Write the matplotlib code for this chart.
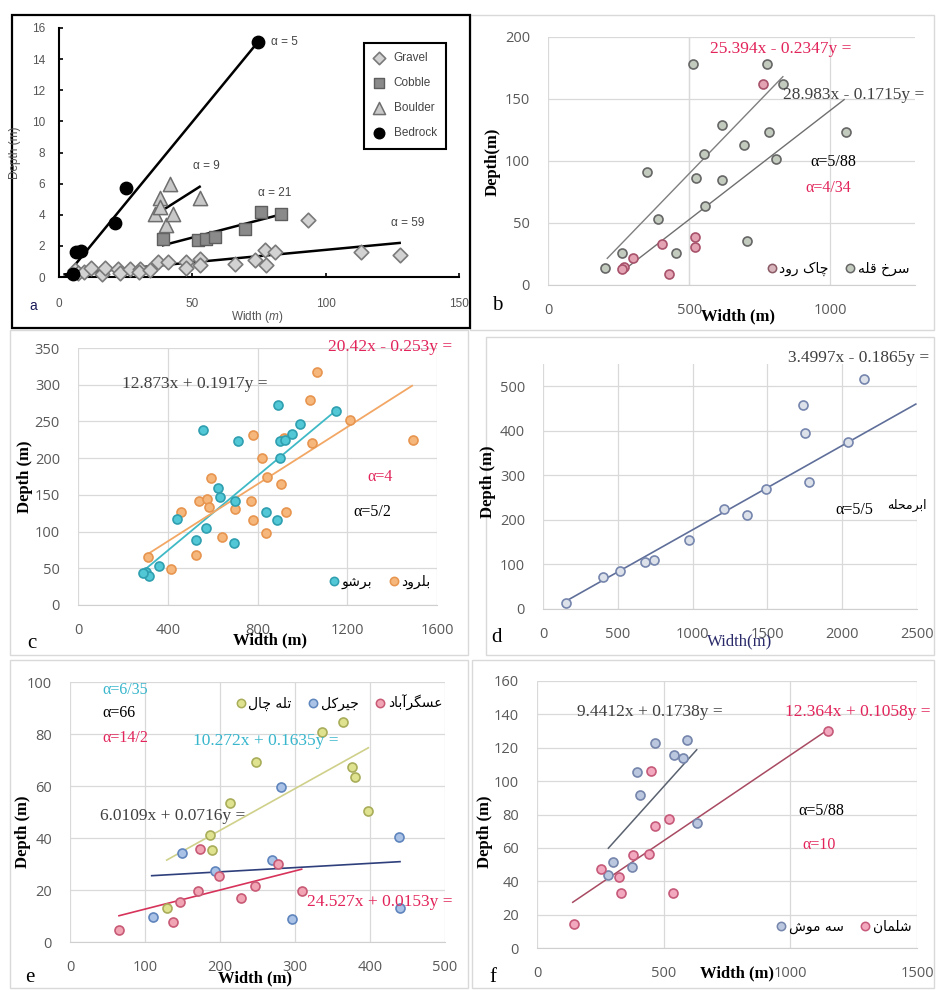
import matplotlib
matplotlib.use("Agg")
import matplotlib.pyplot as plt
from matplotlib.lines import Line2D
from matplotlib.patches import Rectangle

# ---- panel a : Gravel / Cobble / Boulder / Bedrock ----
a_gravel_x = [5.9, 7.0, 9.5, 12.1, 16.0, 17.1, 22.1, 23.0, 26.5, 30.2, 30.0, 34.0, 37.1, 40.9,
              47.8, 47.8, 52.75, 52.75, 65.9, 73.4, 77.1, 77.75, 80.9, 93.4, 113.4, 127.75]
a_gravel_y = [0.43, 0.25, 0.3, 0.6, 0.2, 0.6, 0.54, 0.25, 0.54, 0.54, 0.3, 0.43, 0.97, 0.97,
              0.97, 0.6, 1.18, 0.75, 0.86, 1.07, 1.72, 0.75, 1.61, 3.65, 1.61, 1.4]
a_cobble_x = [39.0, 52.1, 55.25, 58.4, 69.6, 75.6, 83.1]
a_cobble_y = [2.47, 2.36, 2.47, 2.58, 3.11, 4.19, 4.08]
a_boulder_x = [35.9, 37.75, 37.75, 40.25, 41.5, 42.75, 52.75]
a_boulder_y = [4.08, 5.05, 4.5, 3.33, 6.0, 4.08, 5.05]
a_bedrock_x = [5.25, 6.5, 8.1, 20.9, 25.25, 74.6]
a_bedrock_y = [0.21, 1.61, 1.7, 3.44, 5.69, 15.1]
a_fits = {  # (x0, x1), (y0, y1), alpha label
    "Gravel": ((2.1, 127.75), (0.17, 2.19), "α = 59", (124.6, 3.45)),
    "Cobble": ((39.0, 82.1), (2.04, 3.97), "α = 21", (74.6, 5.4)),
    "Boulder": ((35.9, 52.75), (3.97, 5.8), "α = 9", (50.25, 7.15)),
    "Bedrock": ((2.75, 74.6), (0.1, 15.1), "α = 5", (79.6, 15.1)),
}

# ---- panel b ----
b_gray_x = [513, 776, 832, 616, 784, 1054, 695, 551, 809, 352, 524, 616, 557, 389, 705, 454, 263, 201]
b_gray_y = [178, 178, 162, 129, 123, 123, 113, 105.5, 102, 91, 86, 84.5, 63.6, 53, 35.7, 26, 26, 14]
b_pink_x = [761, 521, 521, 302, 269, 261, 430, 403]
b_pink_y = [162, 38.4, 31, 21.5, 14.8, 12.6, 8.9, 33]
b_fit1_x, b_fit1_y = [210, 832], [21.5, 168]
b_fit2_x, b_fit2_y = [261, 1049], [10.7, 149.5]

# ---- panel c ----
c_teal_x = [304, 316, 289, 363, 440, 526, 571, 559, 622, 634, 714, 701, 696, 837, 889, 892,
            901, 923, 953, 988, 900, 1148]
c_teal_y = [45.5, 40, 43, 53, 117, 88.6, 104.5, 238.6, 159, 147.7, 222.7, 142, 85, 127, 116,
            273, 223, 225, 233, 247, 200, 263.6]
c_orange_x = [311, 460, 415, 526, 541, 573, 585, 593, 644, 701, 770, 781, 778, 819, 841, 837,
              904, 926, 916, 1041, 1033, 1064, 1212, 1493]
c_orange_y = [66, 127, 48.6, 68, 141, 144, 134, 172.7, 93, 130.5, 141, 116, 232, 200, 175, 97.7,
              165, 127, 227, 221, 279.5, 317, 252, 225]
c_fit_teal_x, c_fit_teal_y = [296, 1148], [47.7, 264.5]
c_fit_orange_x, c_fit_orange_y = [304, 1489], [68, 298.6]

# ---- panel d ----
d_x = [154, 399, 514, 681, 744, 978, 1209, 1365, 1488, 1739, 1751, 1780, 2036, 2147]
d_y = [14, 71, 86, 106.5, 110, 154, 225, 211, 270, 459, 394, 286, 376, 516.5]
d_fit_x, d_fit_y = [147, 2492], [16.5, 460]

# ---- panel e ----
e_yellow_x = [248, 335.6, 364.4, 375.6, 380, 397.8, 213.3, 186.7, 188.9, 129.8]
e_yellow_y = [69.4, 80.6, 84.7, 67.4, 63.6, 50.5, 53.6, 41.2, 35.4, 13]
e_blue_x = [110, 148.9, 193, 268.9, 281.3, 296.4, 438.7, 440]
e_blue_y = [9.7, 34.3, 27.3, 31.5, 59.5, 8.7, 40.5, 13]
e_pink_x = [65.3, 136.9, 146.7, 171, 173, 199, 227.6, 246.7, 276.9, 309]
e_pink_y = [4.5, 7.6, 15.5, 19.6, 35.6, 25.5, 16.8, 21.5, 30, 19.7]
e_fit_yellow_x, e_fit_yellow_y = [128.9, 397.8], [31.5, 74.7]
e_fit_blue_x, e_fit_blue_y = [108.9, 440], [25.5, 30.9]
e_fit_pink_x, e_fit_pink_y = [65.3, 308.9], [10.1, 28]

# ---- panel f ----
f_blue_x = [466, 593, 541, 575, 394, 407, 630, 299, 374, 282]
f_blue_y = [122.8, 124.8, 115.8, 113.8, 105.2, 91.8, 74.8, 51.8, 48.8, 43.8]
f_pink_x = [1150, 449, 466, 522, 380, 443, 251, 325, 330, 536, 146]
f_pink_y = [130.2, 105.8, 73.2, 77.2, 55.8, 56.2, 47.2, 42.8, 32.8, 32.8, 14.2]
f_fit_blue_x, f_fit_blue_y = [281.6, 630.5], [59.8, 118.8]
f_fit_pink_x, f_fit_pink_y = [141, 1154], [27.4, 131.4]

# Persian shaping (presentation forms, visual order)
FA = {
    'ا': ['\ufe8d', '\ufe8e'], 'آ': ['\ufe81', '\ufe82'], 'د': ['\ufea9', '\ufeaa'],
    'ر': ['\ufead', '\ufeae'], 'و': ['\ufeed', '\ufeee'],
    'ب': ['\ufe8f', '\ufe90', '\ufe91', '\ufe92'], 'ت': ['\ufe95', '\ufe96', '\ufe97', '\ufe98'],
    'ج': ['\ufe9d', '\ufe9e', '\ufe9f', '\ufea0'], 'چ': ['\ufb7a', '\ufb7b', '\ufb7c', '\ufb7d'],
    'ح': ['\ufea1', '\ufea2', '\ufea3', '\ufea4'], 'خ': ['\ufea5', '\ufea6', '\ufea7', '\ufea8'],
    'س': ['\ufeb1', '\ufeb2', '\ufeb3', '\ufeb4'], 'ش': ['\ufeb5', '\ufeb6', '\ufeb7', '\ufeb8'],
    'ع': ['\ufec9', '\ufeca', '\ufecb', '\ufecc'], 'ق': ['\ufed5', '\ufed6', '\ufed7', '\ufed8'],
    'ک': ['\ufb8e', '\ufb8f', '\ufb90', '\ufb91'], 'گ': ['\ufb92', '\ufb93', '\ufb94', '\ufb95'],
    'ل': ['\ufedd', '\ufede', '\ufedf', '\ufee0'], 'م': ['\ufee1', '\ufee2', '\ufee3', '\ufee4'],
    'ن': ['\ufee5', '\ufee6', '\ufee7', '\ufee8'], 'ه': ['\ufee9', '\ufeea', '\ufeeb', '\ufeec'],
    'ی': ['\ufbfc', '\ufbfd', '\ufbfe', '\ufbff'],
}


def fa(s):
    out = []
    for i, ch in enumerate(s):
        f = FA.get(ch)
        if f is None:
            out.append(ch)
            continue
        prev = FA.get(s[i - 1]) if i > 0 else None
        nxt = s[i + 1] if i + 1 < len(s) else ''
        jp = prev is not None and len(prev) == 4
        jn = len(f) == 4 and nxt in FA
        out.append(f[3] if jp and jn else f[1] if jp else f[2] if jn else f[0])
    return ''.join(reversed(out))


W, H = 936, 990
RED = '#e2245a'
TEAL = '#37b6cc'
DARK = '#404040'
SERIF = 'Liberation Serif'
plt.rcParams['mathtext.fontset'] = 'custom'
plt.rcParams['mathtext.it'] = 'Liberation Sans:italic'
plt.rcParams['mathtext.rm'] = 'Liberation Sans'

fig = plt.figure(figsize=(9.36, 9.9), dpi=100)


def rect(l, t, r, b):
    return [l / W, 1 - b / H, (r - l) / W, (b - t) / H]


def ftext(x, y, s, **kw):
    kw.setdefault('va', 'center')
    kw.setdefault('family', SERIF)
    fig.text(x / W, 1 - y / H, s, **kw)


def frame(l, t, r, b, color='#d9d9d9', lw=1.0):
    fig.add_artist(Rectangle((l / W, 1 - b / H), (r - l) / W, (b - t) / H, transform=fig.transFigure,
                             fill=False, ec=color, lw=lw))


def xl_axes(box, xlim, ylim, xticks, yticks, xgrid=True):
    ax = fig.add_axes(rect(*box))
    ax.set_xlim(xlim)
    ax.set_ylim(ylim)
    ax.set_xticks(xticks)
    ax.set_yticks(yticks)
    for s in ax.spines.values():
        s.set_visible(False)
    ax.spines['bottom'].set_visible(True)
    ax.spines['bottom'].set_color('#cfcfcf')
    ax.yaxis.grid(True, color='#d9d9d9', lw=0.9)
    ax.xaxis.grid(xgrid, color='#d9d9d9', lw=0.9)
    ax.set_axisbelow(True)
    ax.tick_params(length=0, labelsize=10.5, labelcolor='#595959')
    ax.tick_params(axis='x', pad=13)
    ax.tick_params(axis='y', pad=13)
    for t in ax.get_xticklabels() + ax.get_yticklabels():
        t.set_family('Open Sans')
    return ax


def pts(ax, x, y, fc, ec):
    ax.scatter(x, y, s=42, facecolor=fc, edgecolor=ec, linewidth=1.2, zorder=3, clip_on=False)


def fa_legend(ax, items, cx, cy, ncol):
    handles = [Line2D([], [], ls='', marker='o', ms=6, mfc=fc, mec=ec, mew=1.1) for _, fc, ec in items]
    labels = [fa(n) for n, _, _ in items]
    ax.legend(handles, labels, loc='center', bbox_to_anchor=(cx / W, 1 - cy / H),
              bbox_transform=fig.transFigure, ncol=ncol, frameon=False, handlelength=0.7,
              handletextpad=0.2, columnspacing=1.2, prop={'family': 'DejaVu Sans', 'size': 10})


# panel frames
frame(470, 15, 934, 330)
frame(10, 330, 468, 655)
frame(486, 337, 934, 655)
frame(10, 660, 468, 988)
frame(472, 660, 934, 988)
frame(12, 15, 470, 328, color='black', lw=1.6)

# ---------- a ----------
ax = fig.add_axes(rect(59, 28, 459, 277))
ax.set_xlim(0, 150)
ax.set_ylim(0, 16)
ax.set_xticks([0, 50, 100, 150])
ax.set_yticks(range(0, 17, 2))
ax.spines['top'].set_visible(False)
ax.spines['right'].set_visible(False)
for s in ('left', 'bottom'):
    ax.spines[s].set_linewidth(1.5)
ax.tick_params(direction='in', length=3, width=1.2, labelsize=8.5, labelcolor='#555555')
ax.tick_params(axis='x', pad=15)
ax.tick_params(axis='y', pad=10)
for t in ax.get_xticklabels() + ax.get_yticklabels():
    t.set_family('Liberation Sans')
for name, ((x0, x1), (y0, y1), lab, (lx, ly)) in a_fits.items():
    ax.plot([x0, x1], [y0, y1], color='black', lw=1.8, zorder=2)
    ax.text(lx, ly, lab, fontsize=8.5, color='#444444', family='Liberation Sans', va='center')
ax.scatter(a_gravel_x, a_gravel_y, marker='D', s=55, fc='#d2d2d2', ec='#7a7a7a', lw=1.2, zorder=3,
           clip_on=False, label='Gravel')
ax.scatter(a_cobble_x, a_cobble_y, marker='s', s=70, fc='#8a8a8a', ec='#5e5e5e', lw=1.0, zorder=3,
           label='Cobble')
ax.scatter(a_boulder_x, a_boulder_y, marker='^', s=105, fc='#c8c8c8', ec='#6e6e6e', lw=1.1, zorder=3,
           label='Boulder')
ax.scatter(a_bedrock_x, a_bedrock_y, marker='o', s=80, fc='black', ec='black', zorder=4,
           clip_on=False, label='Bedrock')
leg = ax.legend(loc='upper right', bbox_to_anchor=(0.9825, 0.964), fancybox=False, framealpha=1,
                edgecolor='black', borderpad=0.8, labelspacing=1.1, handlelength=1.0,
                handletextpad=0.7, markerscale=0.85, prop={'family': 'Liberation Sans', 'size': 8.5})
leg.get_frame().set_linewidth(1.5)
for t in leg.get_texts():
    t.set_color('#444444')
ftext(257, 317, r'Width ($m$)', ha='center', fontsize=8.5, color='#555555', family='Liberation Sans')
ftext(15, 153, 'Depth (m)', ha='center', rotation=90, fontsize=8.5, color='#555555',
      family='Liberation Sans')
ftext(33, 306, 'a', ha='center', fontsize=10, color='#1a1a5a', family='Liberation Sans')

# ---------- b ----------
ax = xl_axes((548, 37, 915, 285), (0, 1300), (0, 200), [0, 500, 1000], range(0, 201, 50), xgrid=False)
ax.axvline(500, color='#d9d9d9', lw=0.9, zorder=0)
ax.plot(b_fit1_x, b_fit1_y, color='#7f7f7f', lw=1.0)
ax.plot(b_fit2_x, b_fit2_y, color='#6f6f6f', lw=1.0)
pts(ax, b_gray_x, b_gray_y, '#c3cbbf', '#666666')
pts(ax, b_pink_x, b_pink_y, '#e3a3b3', '#a8526b')
fa_legend(ax, [('چاک رود', '#d8b4bd', '#8a5a66'), ('سرخ قله', '#c3cbbf', '#666666')], 838, 269, 2)
ftext(710, 49, '25.394x - 0.2347y =', color=RED, fontsize=12.5)
ftext(783, 95, '28.983x - 0.1715y =', color=DARK, fontsize=12.5)
ftext(810, 162, 'α=5/88', color='black', fontsize=11.5)
ftext(805, 188, 'α=4/34', color=RED, fontsize=11.5)
ftext(493, 162, 'Depth(m)', ha='center', rotation=90, fontsize=12, weight='bold')
ftext(738, 316, 'Width (m)', ha='center', fontsize=12, weight='bold')
ftext(497, 305, 'b', ha='center', fontsize=15)

# ---------- c ----------
ax = xl_axes((78, 348, 437, 605), (0, 1600), (0, 350), range(0, 1601, 400), range(0, 351, 50))
ax.plot(c_fit_teal_x, c_fit_teal_y, color='#3fb9c6', lw=1.3)
ax.plot(c_fit_orange_x, c_fit_orange_y, color='#f2a765', lw=1.3)
pts(ax, c_orange_x, c_orange_y, '#f6b77c', '#e7954f')
pts(ax, c_teal_x, c_teal_y, '#52c7d6', '#2f9fb0')
fa_legend(ax, [('برشو', '#52c7d6', '#2f9fb0'), ('بلرود', '#f6b77c', '#e7954f')], 380, 582, 2)
ftext(122, 384, '12.873x + 0.1917y =', color=DARK, fontsize=12.5)
ftext(328, 347, '20.42x - 0.253y =', color=RED, fontsize=12.5)
ftext(367, 477, 'α=4', color=RED, fontsize=11.5)
ftext(353, 512, 'α=5/2', color='black', fontsize=11.5)
ftext(25, 477, 'Depth (m)', ha='center', rotation=90, fontsize=12, weight='bold')
ftext(270, 640, 'Width (m)', ha='center', fontsize=12, weight='bold')
ftext(32, 643, 'c', ha='center', fontsize=15)

# ---------- d ----------
ax = xl_axes((543, 364, 917, 609), (0, 2500), (0, 550), range(0, 2501, 500), range(0, 501, 100))
ax.plot(d_fit_x, d_fit_y, color='#5f6f9a', lw=1.2)
pts(ax, d_x, d_y, '#dde2ea', '#7585ad')
ftext(788, 358, '3.4997x - 0.1865y =', color=DARK, fontsize=12.5)
ftext(835, 510, 'α=5/5', color='black', fontsize=11.5)
ftext(927, 505, fa('ابرمحله'), ha='right', color='black', fontsize=9, family='DejaVu Sans')
ftext(488, 482, 'Depth (m)', ha='center', rotation=90, fontsize=12, weight='bold')
ftext(740, 641, 'Width(m)', ha='center', fontsize=12, color='#2a2a6a')
ftext(497, 638, 'd', ha='center', fontsize=15)

# ---------- e ----------
ax = xl_axes((70, 682, 445, 942), (0, 500), (0, 100), range(0, 501, 100), range(0, 101, 20))
ax.plot(e_fit_yellow_x, e_fit_yellow_y, color='#cfd08a', lw=1.2)
ax.plot(e_fit_blue_x, e_fit_blue_y, color='#2e3f7c', lw=1.2)
ax.plot(e_fit_pink_x, e_fit_pink_y, color='#d7335a', lw=1.2)
pts(ax, e_yellow_x, e_yellow_y, '#dfe28e', '#a9ad5a')
pts(ax, e_blue_x, e_blue_y, '#a9c2e6', '#5f85bd')
pts(ax, e_pink_x, e_pink_y, '#f1a5b4', '#c85a75')
fa_legend(ax, [('تله چال', '#dfe28e', '#a9ad5a'), ('جیرکل', '#a9c2e6', '#5f85bd'),
               ('عسگرآباد', '#f1a5b4', '#c85a75')], 339, 703, 3)
ftext(102, 690, 'α=6/35', color=TEAL, fontsize=11.5)
ftext(102, 713, 'α=66', color='black', fontsize=11.5)
ftext(102, 738, 'α=14/2', color=RED, fontsize=11.5)
ftext(193, 741, '10.272x + 0.1635y =', color=TEAL, fontsize=12.5)
ftext(100, 816, '6.0109x + 0.0716y =', color=DARK, fontsize=12.5)
ftext(307, 902, '24.527x + 0.0153y =', color=RED, fontsize=12.5)
ftext(23, 832, 'Depth (m)', ha='center', rotation=90, fontsize=12, weight='bold')
ftext(255, 978, 'Width (m)', ha='center', fontsize=12, weight='bold')
ftext(30, 978, 'e', ha='center', fontsize=15)

# ---------- f ----------
ax = xl_axes((537, 681, 917, 948), (0, 1500), (0, 160), [0, 500, 1000, 1500], range(0, 161, 20))
ax.plot(f_fit_blue_x, f_fit_blue_y, color='#5a6270', lw=1.1)
ax.plot(f_fit_pink_x, f_fit_pink_y, color='#a84a62', lw=1.1)
pts(ax, f_blue_x, f_blue_y, '#bac7de', '#7585ab')
pts(ax, f_pink_x, f_pink_y, '#f2a8bf', '#c65a7a')
fa_legend(ax, [('سه موش', '#bac7de', '#7585ab'), ('شلمان', '#f2a8bf', '#c65a7a')], 844, 927, 2)
ftext(577, 712, '9.4412x + 0.1738y =', color=DARK, fontsize=12.5)
ftext(785, 712, '12.364x + 0.1058y =', color=RED, fontsize=12.5)
ftext(798, 811, 'α=5/88', color='black', fontsize=11.5)
ftext(802, 845, 'α=10', color=RED, fontsize=11.5)
ftext(485, 832, 'Depth (m)', ha='center', rotation=90, fontsize=12, weight='bold')
ftext(737, 973, 'Width (m)', ha='center', fontsize=12, weight='bold')
ftext(493, 977, 'f', ha='center', fontsize=15)

fig.savefig('out.png', dpi=100)
